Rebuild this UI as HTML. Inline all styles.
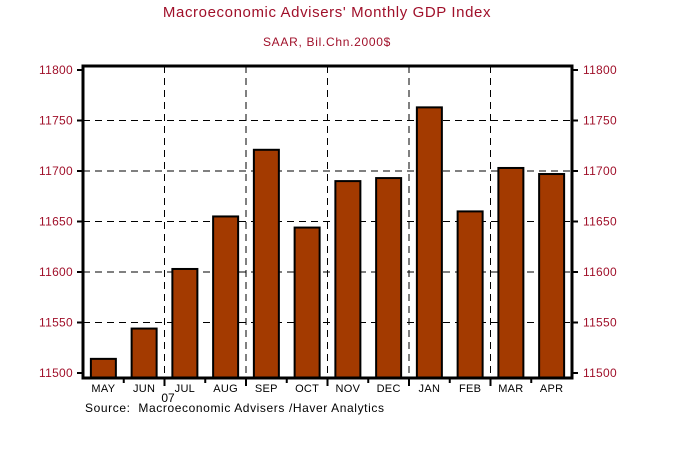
<!DOCTYPE html>
<html><head><meta charset="utf-8"><style>
body{margin:0;background:#fff;}
svg text{font-family:"Liberation Sans",sans-serif;}
</style></head><body>
<svg width="687" height="448" viewBox="0 0 687 448">
<text x="327" y="17" text-anchor="middle" font-size="15" letter-spacing="0.6" fill="#a0102a">Macroeconomic Advisers' Monthly GDP Index</text>
<text x="327" y="46" text-anchor="middle" font-size="12" letter-spacing="0.7" fill="#a0102a">SAAR, Bil.Chn.2000$</text>
<g id="grid"></g>
<g id="bars"></g>
<rect x="83" y="66" width="489" height="312" fill="none" stroke="#000" stroke-width="3"/>
<g id="axes"></g>
<text x="168" y="402" text-anchor="middle" font-size="12">07</text>
<text x="85" y="412" font-size="12" letter-spacing="0.6" xml:space="preserve" style="white-space:pre">Source:  Macroeconomic Advisers /Haver Analytics</text>
</svg>
<script>
const categories=["MAY","JUN","JUL","AUG","SEP","OCT","NOV","DEC","JAN","FEB","MAR","APR"];
const values=[11514,11544,11603,11655,11721,11644,11690,11693,11763,11660,11703,11697];
const yTicks=[11500,11550,11600,11650,11700,11750,11800];
const NS="http://www.w3.org/2000/svg";
const L=83,R=572,B=378;
const slot=(R-L)/categories.length;
function y(v){return 373-(v-11500)*(303/300);}
function x(i){return L+i*slot;}
function mk(t,a,p){const e=document.createElementNS(NS,t);for(const k in a)e.setAttribute(k,a[k]);if(p)document.getElementById(p).appendChild(e);return e;}
yTicks.forEach((v,i)=>{
 if(i>0&&i<yTicks.length-1){const g=mk('line',{x1:L,x2:R,y1:y(v),y2:y(v),stroke:'#000','stroke-dasharray':'7,5'},'grid');
 
 }
 const t1=mk('line',{x1:L-6,x2:L,y1:y(v),y2:y(v),stroke:'#000','stroke-width':2},'axes');
 
 
 const t2=mk('line',{x1:R,x2:R+6,y1:y(v),y2:y(v),stroke:'#000','stroke-width':2},'axes');
 
 
 const a=mk('text',{x:L-10,y:y(v)+4,'text-anchor':'end','font-size':12,'letter-spacing':0.3,fill:'#a0102a'},'axes');a.textContent=v;
 
 
 const b=mk('text',{x:R+11,y:y(v)+4,'font-size':12,'letter-spacing':0.3,fill:'#a0102a'},'axes');b.textContent=v;
 
 
});
for(let i=2;i<categories.length;i+=2){const g=mk('line',{x1:x(i),x2:x(i),y1:66,y2:B,stroke:'#000','stroke-dasharray':'7,5'},'grid');
 
 }
categories.forEach((c,i)=>{
 const bw=25,cx=x(i)+slot/2;
 const r=mk('rect',{x:cx-bw/2,y:y(values[i]),width:bw,height:B-y(values[i]),fill:'#a33a00',stroke:'#000','stroke-width':2},'bars');
 
 
 const t=mk('text',{x:cx,y:392,'text-anchor':'middle','font-size':11,'letter-spacing':0.3},'axes');t.textContent=c;
 
 
 if(i>0){const k=mk('line',{x1:x(i),x2:x(i),y1:B,y2:B+(i%2==0?8:5),stroke:'#000','stroke-width':2},'axes');
 
 }
});
</script>
</body></html>
